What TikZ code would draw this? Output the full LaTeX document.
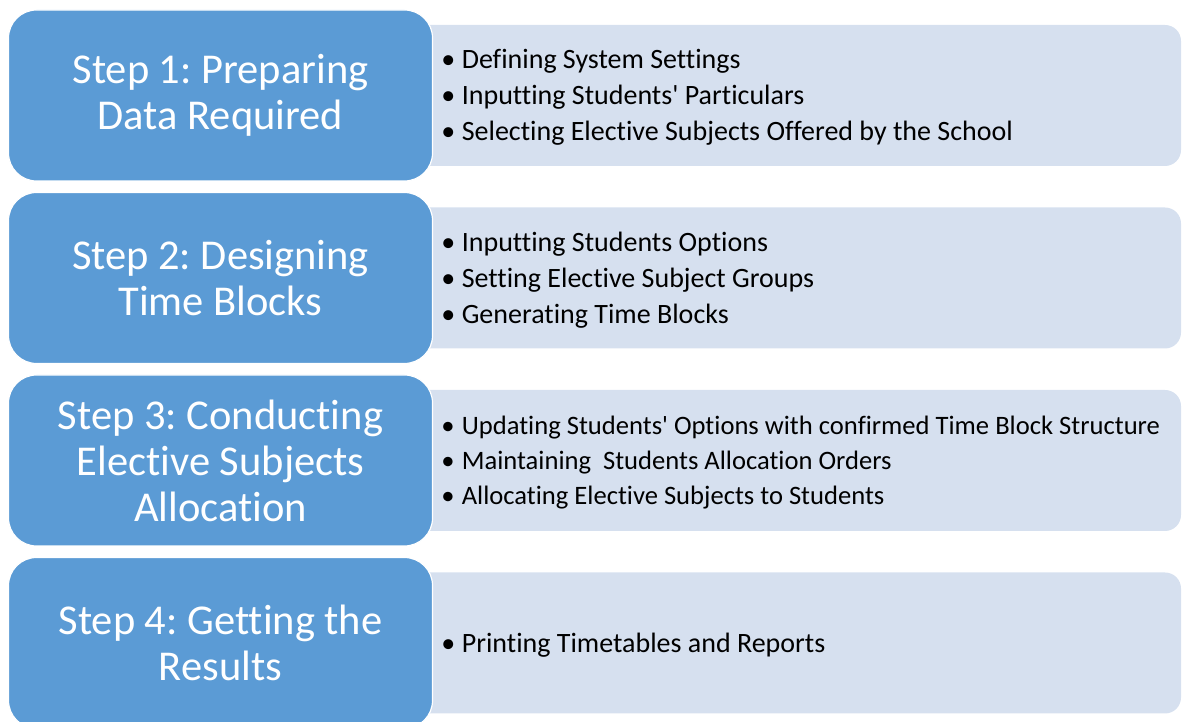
\documentclass[tikz,border=0pt]{standalone}
\usepackage{fontspec}
\setmainfont{Carlito}[Ligatures={NoCommon}]
\usepackage{tikz}
\usetikzlibrary{positioning}
\definecolor{stepblue}{HTML}{5B9BD5}
\definecolor{infoblue}{HTML}{D6E0EF}
\tikzstyle{stepbox}=[rectangle,rounded corners=28pt,fill=stepblue,draw=white,line width=1.2pt,minimum width=424pt,minimum height=171pt,text=white,align=center,font=\fontsize{42.5}{46}\selectfont]
\tikzstyle{infobox}=[rectangle,rounded corners=16pt,fill=infoblue,draw=none,minimum width=880pt,minimum height=141pt]
\tikzstyle{bullets}=[align=left,inner sep=0pt,yshift=-2pt]
\newcommand{\bitem}{\makebox[20.5pt][l]{\textbullet}}
\newcommand{\apos}{\textquotesingle}
\frenchspacing

\begin{document}
\begin{tikzpicture}[x=1pt,y=1pt]
    \useasboundingbox (0,0) rectangle (1182,722);

    % each step: light list box behind, blue title box on top, then the list
    \foreach \i/\fs/\ls/\ttl/\items in {
        1/28/36/{Step 1: Preparing\\Data Required}/{\bitem Defining System Settings\\ \bitem Inputting Students\apos{} Particulars\\ \bitem Selecting Elective Subjects Offered by the School},
        2/28/36/{Step 2: Designing\\Time Blocks}/{\bitem Inputting Students Options\\ \bitem Setting Elective Subject Groups\\ \bitem Generating Time Blocks},
        3/26.6/35/{Step 3: Conducting\\Elective Subjects\\Allocation}/{\bitem Updating Students\apos{} Options with confirmed Time Block Structure\\ \bitem Maintaining\ \ Students Allocation Orders\\ \bitem Allocating Elective Subjects to Students},
        4/28/36/{Step 4: Getting the\\Results}/{\bitem Printing Timetables and Reports}}
    {
        \pgfmathsetmacro{\y}{626.5-(\i-1)*182.5}
        \node[infobox] (info\i) at (741,\y) {};
        \node[stepbox] (step\i) at (220.5,\y) {\ttl};
        \node[bullets,right=8pt of step\i,font=\fontsize{\fs}{\ls}\selectfont] (list\i) {\items};
    }

\end{tikzpicture}
\end{document}
